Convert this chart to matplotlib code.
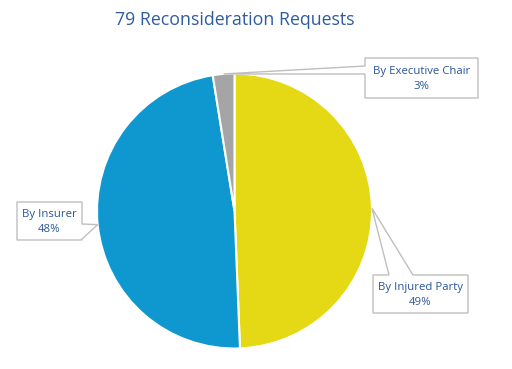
import numpy as np
import matplotlib.pyplot as plt
from matplotlib.patches import Polygon

# data
labels = ["By Injured Party", "By Insurer", "By Executive Chair"]
counts = [39, 38, 2]
pct_labels = ["49%", "48%", "3%"]
colors = ["#E5D915", "#0F97D0", "#A5A5A5"]

# callout boxes in pixel coords (left, top, right, bottom) and where the pointer leaves the box
boxes = [(373, 275, 468, 313), (17, 202, 82, 240), (365, 58, 478, 98)]
pointer_base = [[(389, 275), (413, 275)], [(82, 224), (82, 239)], [(365, 74), (365, 66)]]

W, H = 512, 369
fig = plt.figure(figsize=(W / 100, H / 100), dpi=100)
ax = fig.add_axes([0, 0, 1, 1])

cx, cy, r = 234.5, H - 211, 137.5
wedges, _ = ax.pie(counts, colors=colors, startangle=90, counterclock=False,
                   center=(cx, cy), radius=r, frame=True,
                   wedgeprops=dict(edgecolor="white", linewidth=1.5))
ax.set_xlim(0, W)
ax.set_ylim(0, H)
ax.set_aspect("equal")
ax.axis("off")

text_color = "#2A5597"
for w, lab, pct, box, base in zip(wedges, labels, pct_labels, boxes, pointer_base):
    mid = np.deg2rad((w.theta1 + w.theta2) / 2)
    tip = (cx + r * np.cos(mid), cy + r * np.sin(mid))
    x0, y0, x1, y1 = box
    b = [(x, H - y) for x, y in base]
    y0, y1 = H - y0, H - y1
    # insert pointer into the proper edge of the box outline
    if base[0][1] == box[1] and base[1][1] == box[1]:  # top edge
        pts = [(x0, y0), b[0], tip, b[1], (x1, y0), (x1, y1), (x0, y1)]
    elif base[0][0] == box[2]:  # right edge
        pts = [(x0, y0), (x1, y0), b[0], tip, b[1], (x1, y1), (x0, y1)]
    else:  # left edge
        pts = [(x0, y0), (x1, y0), (x1, y1), (x0, y1), b[0], tip, b[1]]
    ax.add_patch(Polygon(pts, closed=True, facecolor="white", edgecolor="#BFBFBF",
                         linewidth=1, zorder=5))
    ax.text((x0 + x1) / 2, (y0 + y1) / 2 - 1, lab + "\n" + pct, ha="center", va="center",
            fontsize=8.2, color=text_color, family="Open Sans", linespacing=1.55, zorder=6)

ax.text(235, H - 20, "79 Reconsideration Requests", ha="center", va="center",
        fontsize=12.8, color="#2E5C9E", family="Open Sans")

fig.savefig("out.png", dpi=100, facecolor="white")
